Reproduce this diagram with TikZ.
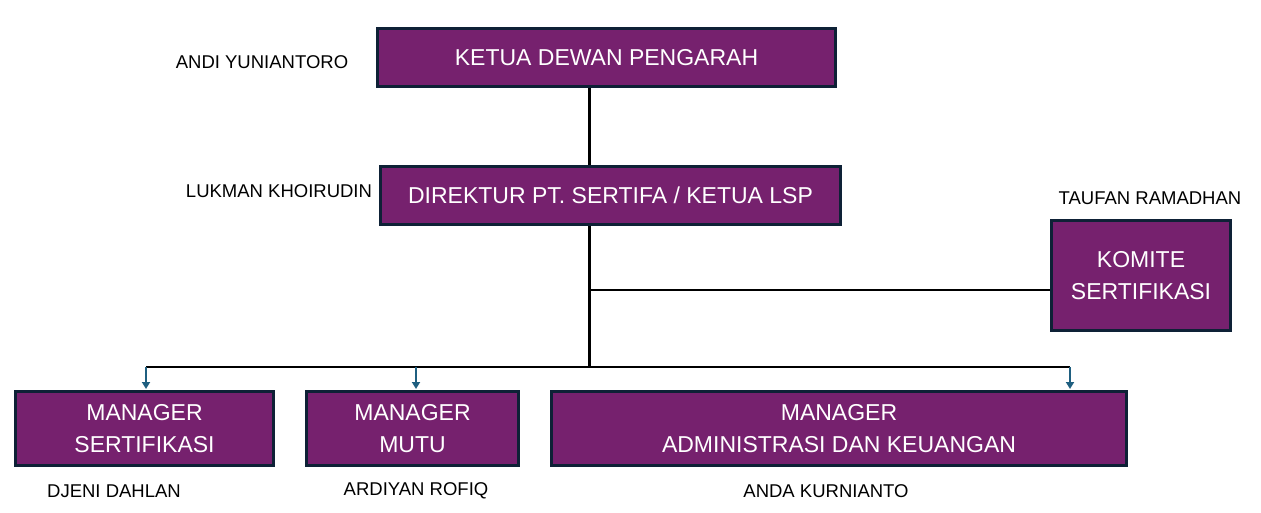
\documentclass[tikz,border=0pt]{standalone}
\usepackage{fontspec}
\setmainfont{Liberation Sans}
\usetikzlibrary{arrows.meta}
\definecolor{boxfill}{HTML}{76216E}
\definecolor{boxline}{HTML}{0E2136}
\definecolor{arrcol}{HTML}{1F5F80}
\tikzset{
  orgbox/.style={draw=boxline, line width=3pt, fill=boxfill, text=white,
    inner sep=0pt, align=center, font=\fontsize{23}{32}\selectfont},
  namelbl/.style={inner sep=0pt, font=\fontsize{18.5}{22}\selectfont, text=black},
  conn/.style={line width=3pt, black},
  busline/.style={line width=2.6pt, black},
  arr/.style={line width=1.8pt, arrcol, -{Triangle[length=7pt,width=8pt]}, shorten >=1pt}
}
\begin{document}
\begin{tikzpicture}[x=1pt,y=-1pt]
\useasboundingbox[fill=white] (0,0) rectangle (1261,513);
\node[orgbox, minimum width=458pt, minimum height=58pt] (ketua) at (606.5,57.5) {KETUA DEWAN PENGARAH};
\node[orgbox, minimum width=460pt, minimum height=58pt] (dir) at (610.5,195.5) {DIREKTUR PT. SERTIFA / KETUA LSP};
\node[orgbox, minimum width=179pt, minimum height=110pt] (komite) at (1141,275.5) {KOMITE\\SERTIFIKASI};
\node[orgbox, minimum width=258pt, minimum height=74pt] (ms) at (144.5,428.5) {MANAGER\\SERTIFIKASI};
\node[orgbox, minimum width=212pt, minimum height=74pt] (mm) at (412.5,428.5) {MANAGER\\MUTU};
\node[orgbox, minimum width=575pt, minimum height=74pt] (ma) at (839,428.5) {MANAGER\\ADMINISTRASI DAN KEUANGAN};

\node[namelbl] (n1) at (262,62) {ANDI YUNIANTORO};
\node[namelbl] (n2) at (279,191) {LUKMAN KHOIRUDIN};
\node[namelbl] (n3) at (1150,198) {TAUFAN RAMADHAN};
\node[namelbl] (n4) at (114,491) {DJENI DAHLAN};
\node[namelbl] (n5) at (416,491) {ARDIYAN ROFIQ};
\node[namelbl] (n6) at (826,491) {ANDA KURNIANTO};

\coordinate (j1) at (589,290);
\coordinate (j2) at (589,367);
\coordinate (bl) at (146,367);
\coordinate (bm) at (416,367);
\coordinate (br) at (1070,367);

\draw[conn] (ketua.south -| j1) -- (dir.north -| j1);
\draw[conn] (dir.south -| j1) -- (j2);
\draw[busline] (j1) -- (komite.west |- j1);
\draw[busline] (bl) -- (br);
\draw[arr] (bl) -- (ms.north -| bl);
\draw[arr] (bm) -- (mm.north -| bm);
\draw[arr] (br) -- (ma.north -| br);
\end{tikzpicture}
\end{document}
